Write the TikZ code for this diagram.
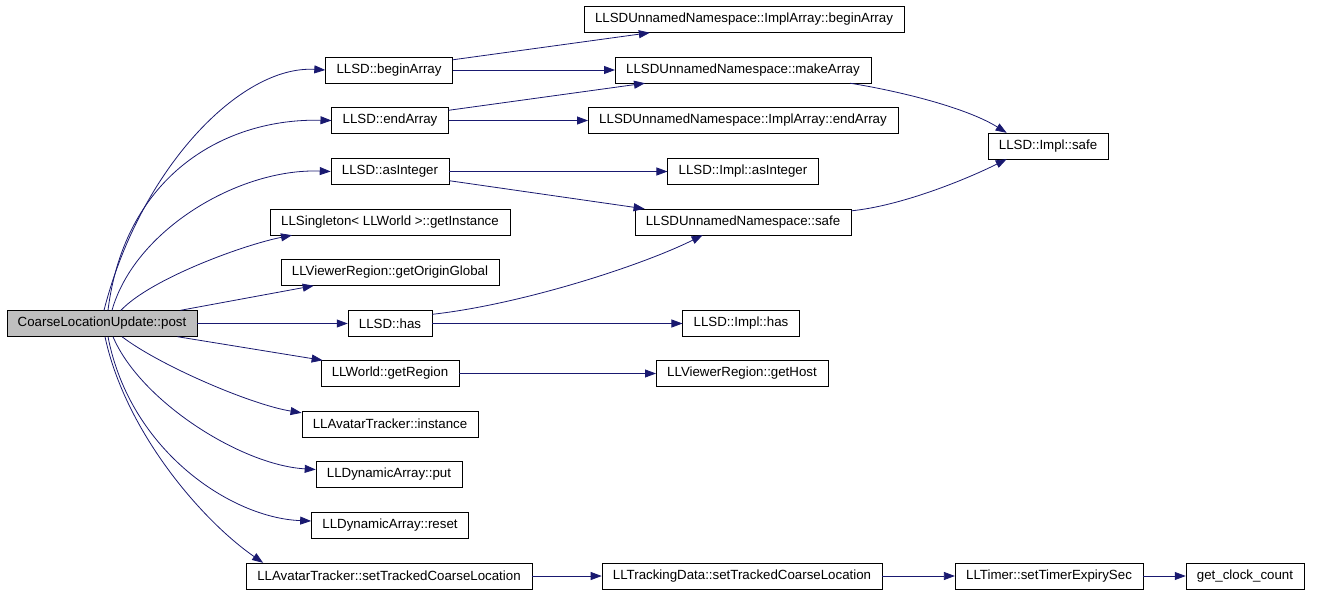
\documentclass[tikz,border=0pt]{standalone}
\usepackage{fontspec}
\setmainfont{Liberation Sans}
\usetikzlibrary{arrows.meta}
\definecolor{edgeblue}{HTML}{191970}

\begin{document}
\begin{tikzpicture}[x = 1pt, y = -1pt,
    every node/.style = { draw, shape = rectangle, font = \fontsize{13.3}{16}\selectfont,
                          inner xsep = 11pt, inner ysep = 0pt, minimum height = 26pt },
    call/.style = { edgeblue, line width = .8pt, -{Triangle[length = 11pt, width = 8pt]} }]
    \useasboundingbox (0,0) rectangle (1317,595);

    % caller
    \node [fill = black!25] (post) at (102,323.5) {CoarseLocationUpdate::post};

    % first column
    \node (beginArray)   at (389,70)    {LLSD::beginArray};
    \node (endArray)     at (390,120.5) {LLSD::endArray};
    \node (asInteger)    at (390,171.5) {LLSD::asInteger};
    \node (getInstance)  at (390,222)   {LLSingleton< LLWorld >::getInstance};
    \node (getOrigin)    at (390,272.5) {LLViewerRegion::getOriginGlobal};
    \node (has)          at (390,323.5) {LLSD::has};
    \node (getRegion)    at (390,373.5) {LLWorld::getRegion};
    \node (instance)     at (390,424)   {LLAvatarTracker::instance};
    \node (put)          at (389,474.5) {LLDynamicArray::put};
    \node (reset)        at (390,525)   {LLDynamicArray::reset};
    \node (avSetTracked) at (389,576)   {LLAvatarTracker::setTrackedCoarseLocation};

    % second column
    \node (implBegin)     at (744,19.5)  {LLSDUnnamedNamespace::ImplArray::beginArray};
    \node (makeArray)     at (743,70)    {LLSDUnnamedNamespace::makeArray};
    \node (implEnd)       at (743,120.5) {LLSDUnnamedNamespace::ImplArray::endArray};
    \node (implAsInteger) at (743,171.5) {LLSD::Impl::asInteger};
    \node (nsSafe)        at (743,222)   {LLSDUnnamedNamespace::safe};
    \node (implHas)       at (741,323.5) {LLSD::Impl::has};
    \node (getHost)       at (742,373.5) {LLViewerRegion::getHost};
    \node (tdSetTracked)  at (742,576)   {LLTrackingData::setTrackedCoarseLocation};

    % right
    \node (implSafe) at (1048,146)  {LLSD::Impl::safe};
    \node (setTimer) at (1049,576)  {LLTimer::setTimerExpirySec};
    \node (clock)    at (1245,576)  {get\_clock\_count};

    % calls from post
    \draw [call] ([xshift=2pt]post.north)  .. controls +(36,-141) and +(-85,-5)  .. (beginArray.west);
    \draw [call] ([xshift=6pt]post.north)  .. controls +(17,-136) and +(-106,-2.5) .. (endArray.west);
    \draw [call] ([xshift=10pt]post.north) .. controls +(23,-81)  and +(-91,-3.5) .. (asInteger.west);
    \draw [call] ([xshift=19pt]post.north) .. controls +(29,-31)  and +(-50,10)   .. ([xshift=22pt]getInstance.south west);
    \draw [call] ([xshift=-17pt]post.north east) -- ([xshift=33pt]getOrigin.south west);
    \draw [call] (post.east) -- (has.west);
    \draw [call] ([xshift=-20pt]post.south east) -- ([xshift=2pt]getRegion.north west);
    \draw [call] ([xshift=20pt]post.south) .. controls +(38,29)  and +(-50,-8)   .. ([yshift=-2pt]instance.north west);
    \draw [call] ([xshift=11pt]post.south) .. controls +(27,64)  and +(-75,-4.5) .. ([yshift=5pt]put.west);
    \draw [call] ([xshift=6pt]post.south)  .. controls +(22,114) and +(-80,-3)   .. ([yshift=4pt]reset.west);
    \draw [call] ([xshift=3pt]post.south)  .. controls +(20,94)  and +(-62,-43)  .. ([xshift=17pt]avSetTracked.north west);

    % first column to second
    \draw [call] ([yshift=-3pt]beginArray.north east) -- ([xshift=66pt]implBegin.south west);
    \draw [call] (beginArray.east) -- (makeArray.west);
    \draw [call] ([yshift=-3pt]endArray.north east) -- ([xshift=30pt]makeArray.south west);
    \draw [call] (endArray.east) -- (implEnd.west);
    \draw [call] (asInteger.east) -- (implAsInteger.west);
    \draw [call] ([yshift=4pt]asInteger.south east) -- ([xshift=10pt]nsSafe.north west);
    \draw [call] ([yshift=-4pt]has.north east) .. controls +(90,-10) and +(-60,30) .. ([xshift=68pt]nsSafe.south west);
    \draw [call] (has.east) -- (implHas.west);
    \draw [call] (getRegion.east) -- (getHost.west);
    \draw [call] (avSetTracked.east) -- (tdSetTracked.west);

    % to the right
    \draw [call] ([xshift=-21pt]makeArray.south east) .. controls +(50,8)  and +(-40,-25) .. ([xshift=19pt]implSafe.north west);
    \draw [call] ([yshift=-2pt]nsSafe.north east)     .. controls +(50,-5) and +(-40,20)  .. ([xshift=19pt]implSafe.south west);
    \draw [call] (tdSetTracked.east) -- (setTimer.west);
    \draw [call] (setTimer.east) -- (clock.west);
\end{tikzpicture}
\end{document}
